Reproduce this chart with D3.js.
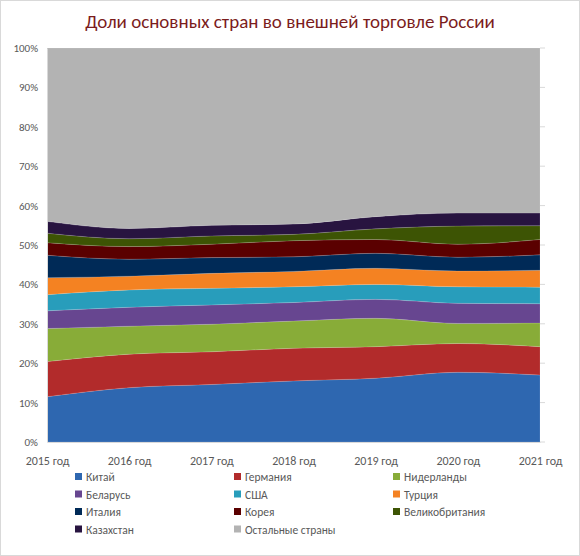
<!DOCTYPE html>
<html><head><meta charset="utf-8">
<script src="https://cdn.jsdelivr.net/npm/d3@7"></script>
<style>body{margin:0;background:#fff;font-family:Calibri,"Liberation Sans",Arial,sans-serif}</style>
</head><body><svg id="c" width="580" height="556"></svg>
<script>
var years = ["2015 год","2016 год","2017 год","2018 год","2019 год","2020 год","2021 год"];
var china = [11.5,13.8,14.6,15.5,16.2,17.7,17.0];
var germany = [8.9,8.5,8.3,8.3,8.0,7.3,7.2];
var netherlands = [8.4,7.1,7.0,6.9,7.2,5.1,6.0];
var belarus = [4.5,4.8,4.9,4.7,4.8,5.1,4.9];
var usa = [4.1,4.4,4.2,4.0,3.8,4.2,4.2];
var turkey = [4.3,3.5,3.8,3.9,4.1,4.0,4.3];
var italy = [5.7,4.3,4.0,3.7,3.8,3.5,3.9];
var korea = [3.2,3.2,3.4,4.1,3.5,3.3,3.9];
var uk = [2.4,2.0,2.1,1.6,2.7,4.6,3.5];
var kazakhstan = [3.0,2.6,2.7,2.6,3.1,3.3,3.2];
var others = [44.0,45.8,45.0,44.7,42.8,41.9,41.9];
var names = ["Китай","Германия","Нидерланды","Беларусь","США","Турция","Италия","Корея","Великобритания","Казахстан","Остальные страны"];
var colors = ["#2e67b0","#b22b2b","#88ac38","#674690","#289dbb","#f48222","#002a57","#5a0000","#3d5404","#281440","#b3b3b3"];
var series = [china,germany,netherlands,belarus,usa,turkey,italy,korea,uk,kazakhstan,others];

var svg = d3.select("#c");
svg.append("rect").attr("x",0.5).attr("y",0.5).attr("width",579).attr("height",555)
  .attr("fill","#fff").attr("stroke","#d9d9d9");
svg.append("text").attr("x",290).attr("y",28).attr("text-anchor","middle")
  .attr("font-size",19).attr("fill","#7b1c1c").text("Доли основных стран во внешней торговле России");

var x = d3.scalePoint().domain(years).range([47,540]);
var y = d3.scaleLinear().domain([0,100]).range([442,48]);

// build table for stack
var table = years.map((yr,i) => {
  var row = {year: yr};
  names.forEach((n,k) => { row[n] = series[k][i]; });
  return row;
});
var stacked = d3.stack().keys(names)(table);
var area = d3.area().x(d => x(d.data.year)).y0(d => y(d[0])).y1(d => y(d[1])).curve(d3.curveMonotoneX);

svg.append("g").selectAll("path").data(stacked).join("path")
  .attr("d",area).attr("fill",(d,i) => colors[i])
  .attr("stroke","#ffffff").attr("stroke-opacity",0.25).attr("stroke-width",0.5);

var ya = svg.append("g").attr("transform","translate(47,0)")
  .call(d3.axisLeft(y).tickValues(d3.range(0,101,10)).tickFormat(d => d + "%").tickSize(0).tickPadding(9));
ya.select(".domain").attr("stroke","#d9d9d9");
ya.selectAll("text").attr("font-size",11).attr("fill","#595959").attr("font-family","Calibri,'Liberation Sans',Arial,sans-serif");
svg.append("g").selectAll("line").data(d3.range(0,101,10)).join("line")
  .attr("x1",540).attr("x2",545).attr("y1",d => y(d)).attr("y2",d => y(d)).attr("stroke","#d9d9d9");

var xa = svg.append("g").attr("transform","translate(0,442)")
  .call(d3.axisBottom(x).tickSize(0).tickPadding(14));
xa.select(".domain").attr("stroke","#d9d9d9");
xa.selectAll("text").attr("font-size",12).attr("fill","#595959").attr("font-family","Calibri,'Liberation Sans',Arial,sans-serif");

var lg = svg.append("g").selectAll("g").data(names).join("g")
  .attr("transform",(d,i) => "translate(" + (75 + (i % 3) * 159) + "," + (477 + Math.floor(i / 3) * 17.5) + ")");
lg.append("rect").attr("x",0).attr("y",-4).attr("width",7).attr("height",7).attr("fill",(d,i) => colors[i]);
lg.append("text").attr("x",11).attr("y",4).attr("font-size",11.5).attr("fill","#595959").text(d => d);
</script></body></html>
